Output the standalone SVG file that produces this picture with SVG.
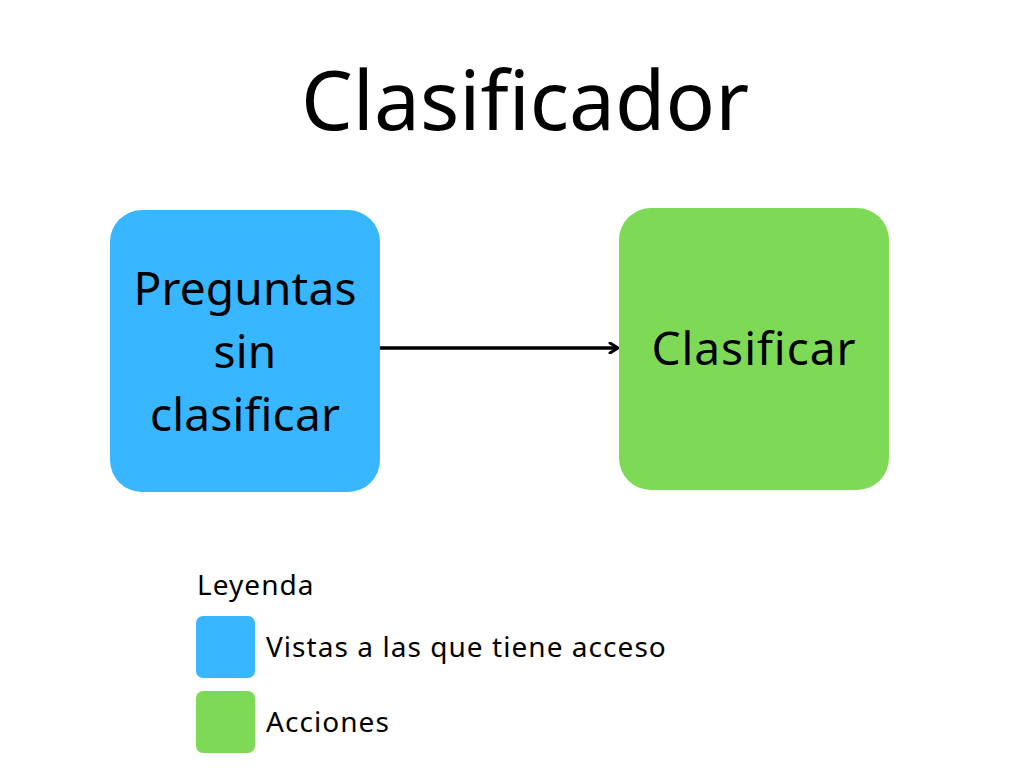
<svg xmlns="http://www.w3.org/2000/svg" width="1024" height="768" viewBox="0 0 1024 768">
<defs>
<style>
text{font-family:"Noto Sans","Open Sans",sans-serif;fill:#000}
.blue{fill:#38B6FF}
.green{fill:#7ED957}
.lbl{font-size:46px;text-anchor:middle;letter-spacing:0.2px}
.leg{font-size:28px;letter-spacing:1.05px}
</style>
<marker id="arr" viewBox="0 0 12 12" refX="10" refY="6" markerWidth="12" markerHeight="12" markerUnits="userSpaceOnUse" orient="auto">
<path d="M2,1 L10,6 L2,11" fill="none" stroke="#000" stroke-width="3" stroke-linecap="round" stroke-linejoin="round"/>
</marker>
</defs>
<rect width="1024" height="768" fill="#fff"/>
<text x="525" y="130" font-size="82" text-anchor="middle">Clasificador</text>
<g id="connectors">
<line x1="380" y1="348" x2="618" y2="348" stroke="#000" stroke-width="3.5" marker-end="url(#arr)"/>
</g>
<g id="node-preguntas">
<rect class="blue" x="110" y="210" width="270" height="282" rx="32"/>
<text class="lbl" x="245" y="305">Preguntas</text>
<text class="lbl" x="245" y="368">sin</text>
<text class="lbl" x="245" y="431">clasificar</text>
</g>
<g id="node-clasificar">
<rect class="green" x="619" y="208" width="270" height="282" rx="32"/>
<text class="lbl" x="754" y="365" style="letter-spacing:1px">Clasificar</text>
</g>
<g id="legend">
<text class="leg" x="197" y="595">Leyenda</text>
<rect class="blue" x="196" y="616" width="59" height="62" rx="7"/>
<text class="leg" x="266" y="657">Vistas a las que tiene acceso</text>
<rect class="green" x="196" y="691" width="59" height="62" rx="7"/>
<text class="leg" x="266" y="732">Acciones</text>
</g>
</svg>
